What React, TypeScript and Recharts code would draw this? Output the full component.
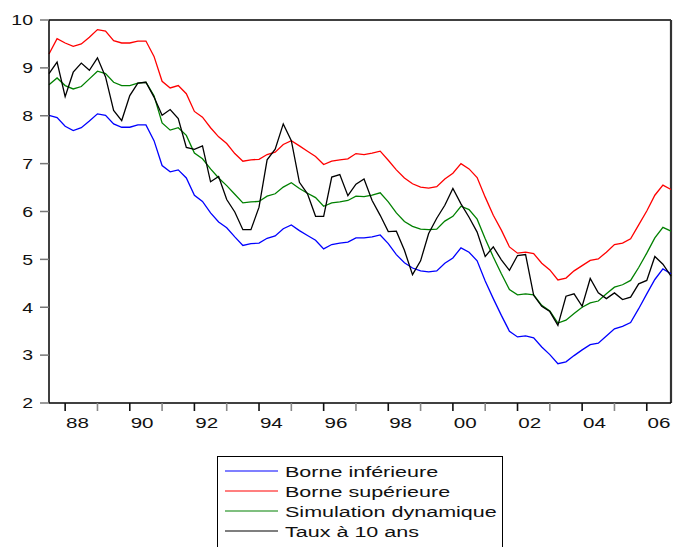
import React from 'react';
import { LineChart, Line, XAxis, YAxis, Legend, ReferenceLine } from 'recharts';

// Quarterly observations, 1987Q3 .. 2006Q4
const firstYear = 1987;
const firstQuarter = 3;
const yearLabels = ['88', '89', '90', '91', '92', '93', '94', '95', '96', '97', '98', '99', '00', '01', '02', '03', '04', '05', '06'];
const labeledYears = ['88', '90', '92', '94', '96', '98', '00', '02', '04', '06'];
const yTicks = [2, 3, 4, 5, 6, 7, 8, 9, 10];

const borneInf = [
  8.01, 7.96, 7.78, 7.69, 7.75, 7.89, 8.04, 8.01, 7.83, 7.76,
  7.76, 7.81, 7.81, 7.48, 6.96, 6.83, 6.87, 6.70, 6.34, 6.21,
  5.97, 5.78, 5.66, 5.47, 5.29, 5.33, 5.34, 5.44, 5.49, 5.64,
  5.72, 5.60, 5.50, 5.40, 5.22, 5.31, 5.34, 5.36, 5.45, 5.45,
  5.47, 5.51, 5.33, 5.10, 4.93, 4.82, 4.76, 4.74, 4.76, 4.92,
  5.03, 5.24, 5.15, 4.97, 4.55, 4.18, 3.83, 3.50, 3.38, 3.40,
  3.36, 3.17, 3.01, 2.82, 2.86, 2.99, 3.11, 3.22, 3.25, 3.40,
  3.55, 3.60, 3.68, 3.97, 4.28, 4.58, 4.80, 4.70,
];
const borneSup = [
  9.29, 9.61, 9.52, 9.45, 9.50, 9.64, 9.80, 9.77, 9.57, 9.52,
  9.52, 9.56, 9.56, 9.24, 8.72, 8.58, 8.63, 8.46, 8.09, 7.97,
  7.75, 7.56, 7.42, 7.21, 7.05, 7.08, 7.09, 7.19, 7.24, 7.40,
  7.48, 7.37, 7.26, 7.15, 6.98, 7.05, 7.08, 7.10, 7.21, 7.19,
  7.22, 7.26, 7.07, 6.87, 6.70, 6.58, 6.51, 6.49, 6.52, 6.68,
  6.80, 7.00, 6.89, 6.71, 6.30, 5.92, 5.61, 5.26, 5.13, 5.15,
  5.12, 4.92, 4.78, 4.57, 4.61, 4.76, 4.87, 4.98, 5.01, 5.15,
  5.31, 5.34, 5.43, 5.72, 6.01, 6.34, 6.55, 6.46,
];
const simulation = [
  8.65, 8.79, 8.63, 8.56, 8.61, 8.77, 8.93, 8.88, 8.70, 8.63,
  8.63, 8.68, 8.70, 8.42, 7.85, 7.70, 7.75, 7.59, 7.22, 7.10,
  6.89, 6.70, 6.54, 6.36, 6.18, 6.20, 6.21, 6.32, 6.37, 6.51,
  6.60, 6.48, 6.38, 6.29, 6.11, 6.18, 6.20, 6.23, 6.32, 6.31,
  6.34, 6.39, 6.20, 5.97, 5.79, 5.69, 5.63, 5.62, 5.63, 5.80,
  5.90, 6.11, 6.04, 5.84, 5.43, 5.05, 4.70, 4.37, 4.26, 4.28,
  4.26, 4.04, 3.92, 3.67, 3.73, 3.87, 4.00, 4.09, 4.13, 4.28,
  4.42, 4.47, 4.56, 4.83, 5.13, 5.45, 5.67, 5.59,
];
const taux10 = [
  8.88, 9.12, 8.40, 8.91, 9.10, 8.95, 9.21, 8.81, 8.11, 7.90,
  8.42, 8.68, 8.70, 8.39, 8.01, 8.13, 7.94, 7.34, 7.30, 7.37,
  6.62, 6.73, 6.25, 5.99, 5.62, 5.62, 6.09, 7.08, 7.30, 7.83,
  7.48, 6.61, 6.37, 5.90, 5.90, 6.72, 6.77, 6.33, 6.57, 6.68,
  6.23, 5.92, 5.58, 5.59, 5.19, 4.68, 4.97, 5.54, 5.86, 6.13,
  6.48, 6.16, 5.88, 5.57, 5.06, 5.26, 4.99, 4.77, 5.08, 5.10,
  4.25, 4.02, 3.91, 3.62, 4.23, 4.28, 4.02, 4.60, 4.30, 4.18,
  4.30, 4.16, 4.21, 4.49, 4.56, 5.06, 4.90, 4.65,
];

const seriesNames = ['Borne inférieure', 'Borne supérieure', 'Simulation dynamique', 'Taux à 10 ans'];
const seriesColors = ['#0000FF', '#FF0000', '#008000', '#000000'];

const data = borneInf.map((v, i) => {
  const q = firstQuarter - 1 + i;
  const year = firstYear + Math.floor(q / 4);
  return {
    i,
    period: `${year}Q${(q % 4) + 1}`,
    inf: v,
    sup: borneSup[i],
    sim: simulation[i],
    taux: taux10[i],
  };
});

// index of Q1 of each labelled year
const yearTickIdx = yearLabels.map((_, k) => 4 - (firstQuarter - 1) + 4 * k);
const lastIdx = data.length - 1;

const FONT = '"Liberation Sans", Arial, Helvetica, sans-serif';

const XTick = (props: any) => {
  const { x, y, payload } = props;
  const k = yearTickIdx.indexOf(payload.value);
  const lab = yearLabels[k];
  const major = labeledYears.includes(lab);
  return (
    <g>
      <line x1={x} x2={x} y1={y - 8} y2={y} stroke={major ? '#111' : '#888'} strokeWidth={1.6} />
      {major && (
        <text
          transform={`translate(${x + 12.3},${y + 17}) scale(1.33,1)`}
          textAnchor="middle"
          fontSize={15.5}
          fontFamily={FONT}
          fill="#111"
        >
          {lab}
        </text>
      )}
    </g>
  );
};

const YTick = (props: any) => {
  const { x, y, payload } = props;
  return (
    <text
      transform={`translate(${x},${y + 5.3}) scale(1.3,1)`}
      textAnchor="end"
      fontSize={15}
      fontFamily={FONT}
      fill="#111"
    >
      {payload.value}
    </text>
  );
};

const LegendBox = () => (
  <svg width={288} height={91} style={{ display: 'block' }}>
    <line x1={0.5} y1={0} x2={0.5} y2={91} stroke="#000" strokeWidth={1} />
    <line x1={0} y1={0.5} x2={286} y2={0.5} stroke="#000" strokeWidth={1} />
    <line x1={285.5} y1={0} x2={285.5} y2={91} stroke="#000" strokeWidth={1} />
    {seriesNames.map((name, k) => (
      <g key={name}>
        <line x1={8} x2={61} y1={15 + 20 * k} y2={15 + 20 * k} stroke={seriesColors[k]} strokeWidth={1.2} />
        <text
          transform={`translate(68,${20.5 + 20 * k}) scale(1.39,1)`}
          fontSize={15.5}
          fontFamily={FONT}
          fill="#111"
        >
          {name}
        </text>
      </g>
    ))}
  </svg>
);

export default function App() {
  return (
    <div style={{ position: 'absolute', left: 0, top: 0, width: 674, height: 547, background: '#fff' }}>
      <LineChart
        width={674}
        height={547}
        data={data}
        margin={{ top: 20, right: 3, bottom: 114, left: 0 }}
      >
        <XAxis
          dataKey="i"
          type="number"
          domain={[0, lastIdx]}
          ticks={yearTickIdx}
          interval={0}
          tickSize={8}
          tickMargin={0}
          tickLine={false}
          tick={<XTick />}
          height={30}
          axisLine={{ stroke: '#000', strokeWidth: 1.5 }}
        />
        <YAxis
          domain={[2, 10]}
          ticks={yTicks}
          interval={0}
          width={49}
          tickSize={9}
          tickMargin={7}
          tickLine={{ stroke: '#777', strokeWidth: 1.5 }}
          tick={<YTick />}
          axisLine={{ stroke: '#000', strokeWidth: 1.5 }}
        />
        <ReferenceLine y={10} stroke="#000" strokeWidth={1.3} ifOverflow="visible" />
        <ReferenceLine x={lastIdx} stroke="#333" strokeWidth={2.2} ifOverflow="visible" />
        <Line dataKey="inf" name={seriesNames[0]} stroke={seriesColors[0]} strokeWidth={1.3} dot={false} isAnimationActive={false} />
        <Line dataKey="sup" name={seriesNames[1]} stroke={seriesColors[1]} strokeWidth={1.3} dot={false} isAnimationActive={false} />
        <Line dataKey="sim" name={seriesNames[2]} stroke={seriesColors[2]} strokeWidth={1.3} dot={false} isAnimationActive={false} />
        <Line dataKey="taux" name={seriesNames[3]} stroke={seriesColors[3]} strokeWidth={1.3} dot={false} isAnimationActive={false} />
        <Legend
          layout="vertical"
          align="center"
          verticalAlign="middle"
          content={<LegendBox />}
          wrapperStyle={{ position: 'absolute', left: 217, top: 456, width: 288, height: 91, margin: 0 }}
        />
      </LineChart>
    </div>
  );
}
